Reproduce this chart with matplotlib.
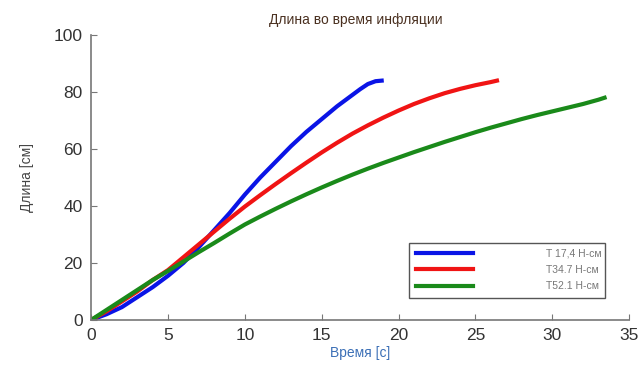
import matplotlib
matplotlib.use('Agg')
import matplotlib.pyplot as plt
import numpy as np

plt.rcParams['font.family'] = ['Liberation Sans', 'DejaVu Sans']

# time [s] and length [cm] for each torque
t_blue = [0, 1, 2, 3, 4, 5, 6, 7, 8, 9, 10, 11, 12, 13, 14, 15, 16, 17, 17.5, 18,
          18.5, 18.9]
l_blue = [0, 2, 4.5, 8, 11.5, 15.5, 20, 25.5, 31.5, 37.5, 44, 50, 55.5, 61, 66, 70.5,
          75, 79, 81, 82.8, 83.8, 84]

t_red = [0, 1, 2, 3, 4, 5, 6, 7, 8, 9, 10, 11, 12, 13, 14, 15, 16, 17, 18, 19, 20,
         21, 22, 23, 24, 25, 26, 26.4]
l_red = [0, 3, 6.5, 10, 14, 17.5, 22, 26.5, 31, 35.5, 39.8, 43.8, 47.7, 51.5, 55.2,
         58.8, 62.2, 65.4, 68.3, 71, 73.5, 75.8, 77.8, 79.6, 81.1, 82.4, 83.5, 84]

t_green = [0, 1, 2, 3, 4, 5, 6, 7, 8, 9, 10, 11, 12, 13, 14, 15, 16, 17, 18, 19, 20,
           21, 22, 23, 24, 25, 26, 27, 28, 29, 30, 31, 32, 33, 33.4]
l_green = [0, 3.5, 7, 10.5, 14, 17.2, 20.5, 23.8, 27, 30.3, 33.5, 36.3, 39, 41.6,
           44.1, 46.5, 48.8, 51, 53.1, 55.1, 57, 58.9, 60.7, 62.5, 64.2, 65.9, 67.5,
           69, 70.5, 71.9, 73.2, 74.5, 75.8, 77.3, 78]

labels = ['T 17,4 Н-см', 'T34.7 Н-см', 'T52.1 Н-см']

fig = plt.figure(figsize=(6.42, 3.69), dpi=100)
ax = fig.add_axes([0.142, 0.133, 0.838, 0.772])

ax.plot(t_blue, l_blue, color='#0a14e6', lw=3, label=labels[0])
ax.plot(t_red, l_red, color='#f01414', lw=3, label=labels[1])
ax.plot(t_green, l_green, color='#1a8a1a', lw=3, label=labels[2])

ax.set_xlim(0, 35)
ax.set_ylim(0, 100)
ax.set_xticks(np.arange(0, 36, 5))
ax.set_yticks(np.arange(0, 101, 20))
for s in ['top', 'right']:
    ax.spines[s].set_visible(False)
for s in ['left', 'bottom']:
    ax.spines[s].set_color('#777777')
    ax.spines[s].set_linewidth(1.2)
ax.tick_params(direction='in', length=4, color='#777777', labelsize=12.5,
               labelcolor='#333333', pad=6)

ax.set_xlabel('Время [с]', color='#3b6fb6', fontsize=10, labelpad=2)
ax.set_ylabel('Длина [см]', color='#444444', fontsize=10, labelpad=14)
fig.text(0.555, 0.945, 'Длина во время инфляции', ha='center', va='center',
         fontsize=10, color='#4a3020')

leg = ax.legend(loc='lower left', bbox_to_anchor=(0.582, 0.06, 0.383, 0.196),
                mode='expand', fontsize=7.5, handlelength=5.5, handletextpad=7,
                fancybox=False, edgecolor='#555555', framealpha=1,
                borderpad=0.6, labelspacing=0.6)
leg.get_frame().set_linewidth(1.0)
for txt in leg.get_texts():
    txt.set_color('#777777')

fig.savefig('out.png', dpi=100)
